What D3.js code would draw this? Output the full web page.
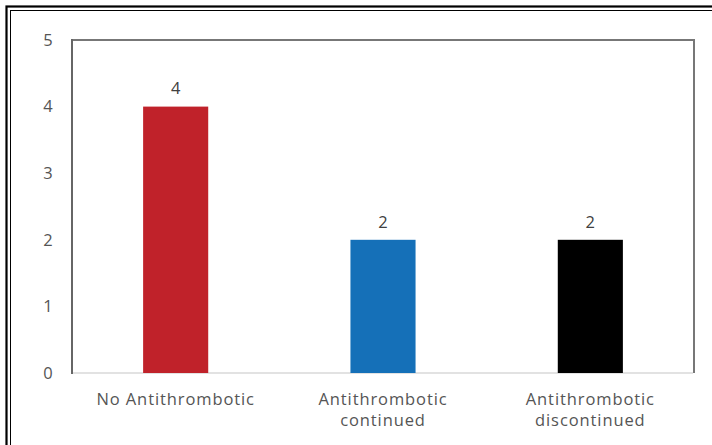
<!DOCTYPE html>
<html><head><meta charset="utf-8">
<script src="https://cdn.jsdelivr.net/npm/d3@7"></script>
<style>html,body{margin:0;padding:0;background:#fff;}svg{display:block;}</style>
</head><body>
<svg id="c" width="712" height="445"></svg>
<script>
const categories = [["No Antithrombotic"], ["Antithrombotic", "continued"], ["Antithrombotic", "discontinued"]];
const values = [4, 2, 2];
const colors = ["#c0222a", "#1570b8", "#000000"];
const yTicks = [0, 1, 2, 3, 4, 5];

const svg = d3.select("#c");
const m = {left: 72, right: 694, top: 40, bottom: 373};

// outer double frame
svg.append("rect").attr("x", 6.5).attr("y", 6.5).attr("width", 720).attr("height", 460)
  .attr("fill", "none").attr("stroke", "#000").attr("stroke-width", 2.2);
svg.append("rect").attr("x", 10.5).attr("y", 10.5).attr("width", 720).attr("height", 460)
  .attr("fill", "none").attr("stroke", "#000").attr("stroke-width", 1);

const x = d3.scaleBand().domain(d3.range(values.length)).range([m.left, m.right]).padding(0);
const y = d3.scaleLinear().domain([0, 5]).range([m.bottom, m.top]);
const barW = x.bandwidth() * 0.314;
const font = "'Open Sans', 'Segoe UI', sans-serif";

// plot frame: top and right
svg.append("path")
  .attr("d", `M${m.left},${m.top}H${m.right}V${m.bottom}`)
  .attr("fill", "none").attr("stroke", "#777").attr("stroke-width", 2);
// baseline
svg.append("line").attr("x1", m.left).attr("x2", m.right - 1).attr("y1", m.bottom).attr("y2", m.bottom)
  .attr("stroke", "#d9d9d9").attr("stroke-width", 1.5);
// left axis line
svg.append("line").attr("x1", m.left).attr("x2", m.left).attr("y1", m.top - 1).attr("y2", m.bottom + 1)
  .attr("stroke", "#666").attr("stroke-width", 2);

// y tick labels
svg.append("g").selectAll("text").data(yTicks).join("text")
  .attr("x", 48).attr("y", d => y(d)).attr("dy", "0.35em")
  .attr("text-anchor", "middle").attr("fill", "#555")
  .style("font-family", font).style("font-size", "16.5px").text(d => d);

// bars
svg.append("g").selectAll("rect").data(values).join("rect")
  .attr("x", (d, i) => x(i) + x.bandwidth() / 2 - barW / 2)
  .attr("y", d => y(d)).attr("width", barW).attr("height", d => y(0) - y(d))
  .attr("fill", (d, i) => colors[i]);

// value labels
svg.append("g").selectAll("text").data(values).join("text")
  .attr("x", (d, i) => x(i) + x.bandwidth() / 2).attr("y", d => y(d) - 18).attr("dy", "0.35em")
  .attr("text-anchor", "middle").attr("fill", "#404040")
  .style("font-family", font).style("font-size", "16.5px").text(d => d);

// category labels
const cl = svg.append("g").selectAll("text").data(categories).join("text")
  .attr("x", (d, i) => x(i) + x.bandwidth() / 2).attr("y", 405)
  .attr("text-anchor", "middle").attr("fill", "#555")
  .style("font-family", font).style("font-size", "16.5px").style("letter-spacing", "0.9px");
cl.selectAll("tspan").data(d => d).join("tspan")
  .attr("x", function () { return d3.select(this.parentNode).attr("x"); })
  .attr("dy", (d, i) => i === 0 ? 0 : 21).text(d => d);
</script>
</body></html>
